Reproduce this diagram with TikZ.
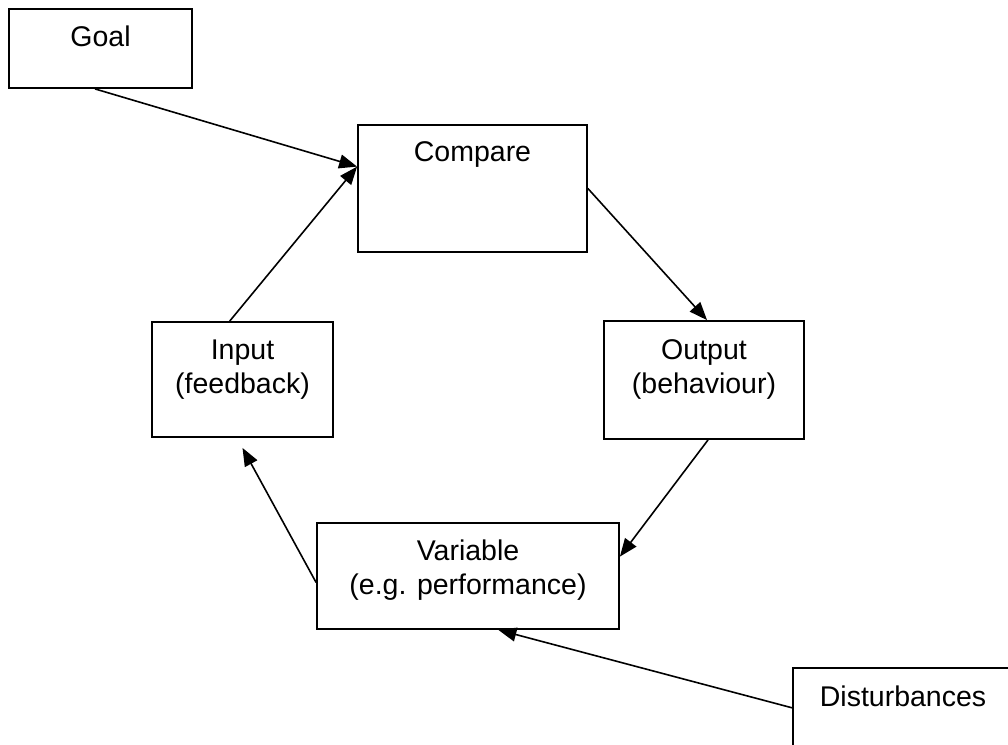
\documentclass[tikz,border=0pt]{standalone}
\usepackage{fontspec}
\setmainfont{Liberation Sans}
\usetikzlibrary{arrows.meta,calc}
\begin{document}
\begin{tikzpicture}[x=1pt,y=-1pt,
  box/.style={draw,line width=1.8pt,inner sep=0pt,rectangle},
  lbl/.style={anchor=base,font=\fontsize{28.5}{34}\selectfont,inner sep=0pt},
  conn/.style={line width=1.6pt,-{Triangle[length=18pt,width=14pt]}}]
\useasboundingbox (0,0) rectangle (1008,744);
\clip (0,0) rectangle (1008,744);
% boxes
\node[box,minimum width=183pt,minimum height=79pt] (goal) at (100.5,48.5) {};
\node[box,minimum width=229pt,minimum height=127pt] (compare) at (472.5,188.5) {};
\node[box,minimum width=181pt,minimum height=115pt] (input) at (242.5,379.5) {};
\node[box,minimum width=200pt,minimum height=118pt] (output) at (704,380) {};
\node[box,minimum width=302pt,minimum height=106pt] (variable) at (468,576) {};
\node[box,minimum width=220pt,minimum height=100pt] (dist) at (903,718) {};
% labels
\node[lbl] (goalt) at ($(goal.north)+(0,38)$) {Goal};
\node[lbl] (comparet) at ($(compare.north)+(0,37.5)$) {Compare};
\node[lbl] (inputt1) at ($(input.north)+(0,38)$) {Input};
\node[lbl] (inputt2) at ($(input.north)+(0,72)$) {(feedback)};
\node[lbl] (outputt1) at ($(output.north)+(0,39)$) {Output};
\node[lbl] (outputt2) at ($(output.north)+(0,73)$) {(behaviour)};
\node[lbl] (variablet1) at ($(variable.north)+(0,38.5)$) {Variable};
\node[lbl] (variablet2) at ($(variable.north)+(0,72)$) {(e.g. performance)};
\node[lbl] (distt) at ($(dist.north)+(0,39)$) {Disturbances};
% connectors
\coordinate (cin) at ($(compare.north west)!0.33!(compare.south west)$);
\draw[conn] ($(goal.south west)!0.47!(goal.south east)$) -- (cin);
\draw[conn] ($(input.north west)!0.43!(input.north east)$) -- (cin);
\draw[conn] (compare.east) -- ($(output.north west)!0.515!(output.north east)$);
\draw[conn] ($(output.south west)!0.52!(output.south east)$) -- ($(variable.north east)!0.32!(variable.south east)$);
\draw[conn] ($(variable.north west)!0.56!(variable.south west)$) -- ($(input.south)+(0,10)$);
\draw[conn] ($(dist.north west)!0.4!(dist.south west)$) -- ($(variable.south west)!0.6!(variable.south east)$);
\end{tikzpicture}
\end{document}
